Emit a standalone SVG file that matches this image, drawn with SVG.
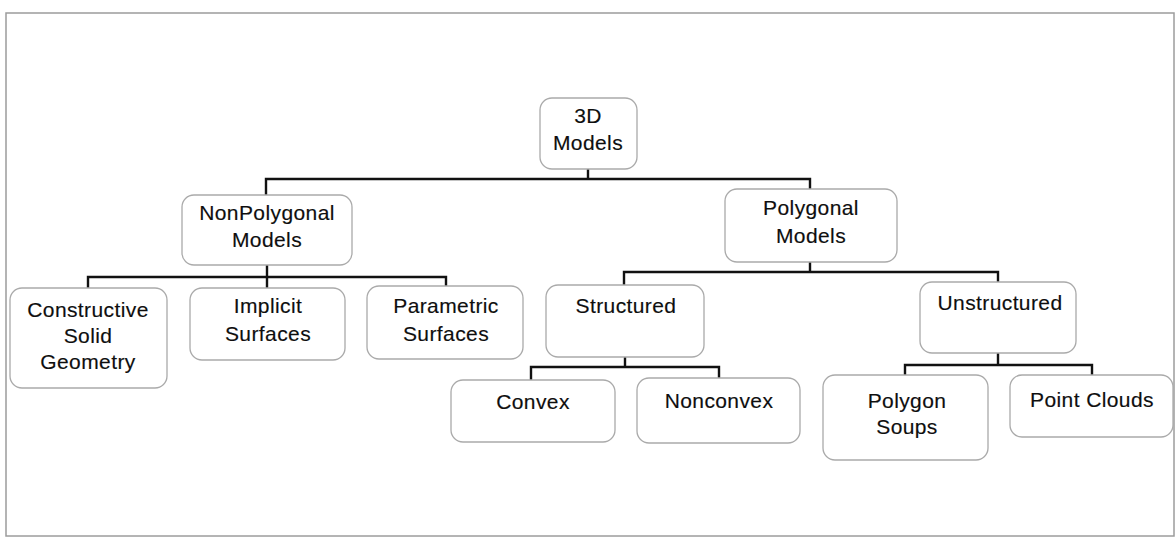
<svg xmlns="http://www.w3.org/2000/svg" width="1176" height="547" viewBox="0 0 1176 547">
  <style>
    .frame { fill: none; stroke: #9c9c9c; stroke-width: 1.5; }
    .box { fill: #ffffff; stroke: #aaaaaa; stroke-width: 1.3; }
    .label { font-family: "Liberation Sans", Arial, Helvetica, sans-serif; font-size: 21px; letter-spacing: 0.4px; fill: #0e0e0e; text-anchor: middle; stroke: #0e0e0e; stroke-width: 0.15; }
    .link { fill: none; stroke: #111111; stroke-width: 2.4; stroke-linecap: square; }
  </style>
  <rect width="1176" height="547" fill="#ffffff"/>
  <rect class="frame" x="6" y="13" width="1168" height="523"/>

  <!-- tree connectors -->
  <g id="connectors">
    <path class="link" d="M588 169 V179 M266 179 H810 M266 179 V195 M810 179 V189"/>
    <path class="link" d="M267 265 V277 M88 277 H446 M88 277 V288 M267 277 V288 M446 277 V286"/>
    <path class="link" d="M810 262 V272 M624 272 H998 M624 272 V285 M998 272 V282"/>
    <path class="link" d="M625 357 V367 M531 367 H719 M531 367 V380 M719 367 V378"/>
    <path class="link" d="M998 353 V365 M905 365 H1092 M905 365 V375 M1092 365 V375"/>
  </g>

  <g id="node-3d-models">
    <rect class="box" x="540" y="98" width="97" height="71" rx="12"/>
    <text class="label" x="588" y="123">3D</text>
    <text class="label" x="588" y="150">Models</text>
  </g>

  <g id="node-nonpolygonal">
    <rect class="box" x="182" y="195" width="170" height="70" rx="12"/>
    <text class="label" x="267" y="220">NonPolygonal</text>
    <text class="label" x="267" y="247">Models</text>
  </g>

  <g id="node-csg">
    <rect class="box" x="10" y="288" width="157" height="100" rx="12"/>
    <text class="label" x="88" y="317">Constructive</text>
    <text class="label" x="88" y="343">Solid</text>
    <text class="label" x="88" y="369">Geometry</text>
  </g>

  <g id="node-implicit">
    <rect class="box" x="190" y="288" width="155" height="72" rx="12"/>
    <text class="label" x="268" y="313">Implicit</text>
    <text class="label" x="268" y="341">Surfaces</text>
  </g>

  <g id="node-parametric">
    <rect class="box" x="367" y="286" width="156" height="73" rx="12"/>
    <text class="label" x="446" y="313">Parametric</text>
    <text class="label" x="446" y="341">Surfaces</text>
  </g>

  <g id="node-polygonal">
    <rect class="box" x="725" y="189" width="172" height="73" rx="12"/>
    <text class="label" x="811" y="215">Polygonal</text>
    <text class="label" x="811" y="243">Models</text>
  </g>

  <g id="node-structured">
    <rect class="box" x="546" y="285" width="158" height="72" rx="12"/>
    <text class="label" x="626" y="313">Structured</text>
  </g>

  <g id="node-convex">
    <rect class="box" x="451" y="380" width="164" height="62" rx="12"/>
    <text class="label" x="533" y="409">Convex</text>
  </g>

  <g id="node-nonconvex">
    <rect class="box" x="637" y="378" width="163" height="65" rx="12"/>
    <text class="label" x="719" y="408">Nonconvex</text>
  </g>

  <g id="node-unstructured">
    <rect class="box" x="920" y="282" width="156" height="71" rx="12"/>
    <text class="label" x="1000" y="310">Unstructured</text>
  </g>

  <g id="node-polygon-soups">
    <rect class="box" x="823" y="375" width="165" height="85" rx="12"/>
    <text class="label" x="907" y="408">Polygon</text>
    <text class="label" x="907" y="434">Soups</text>
  </g>

  <g id="node-point-clouds">
    <rect class="box" x="1010" y="375" width="163" height="62" rx="12"/>
    <text class="label" x="1092" y="407">Point Clouds</text>
  </g>
</svg>
